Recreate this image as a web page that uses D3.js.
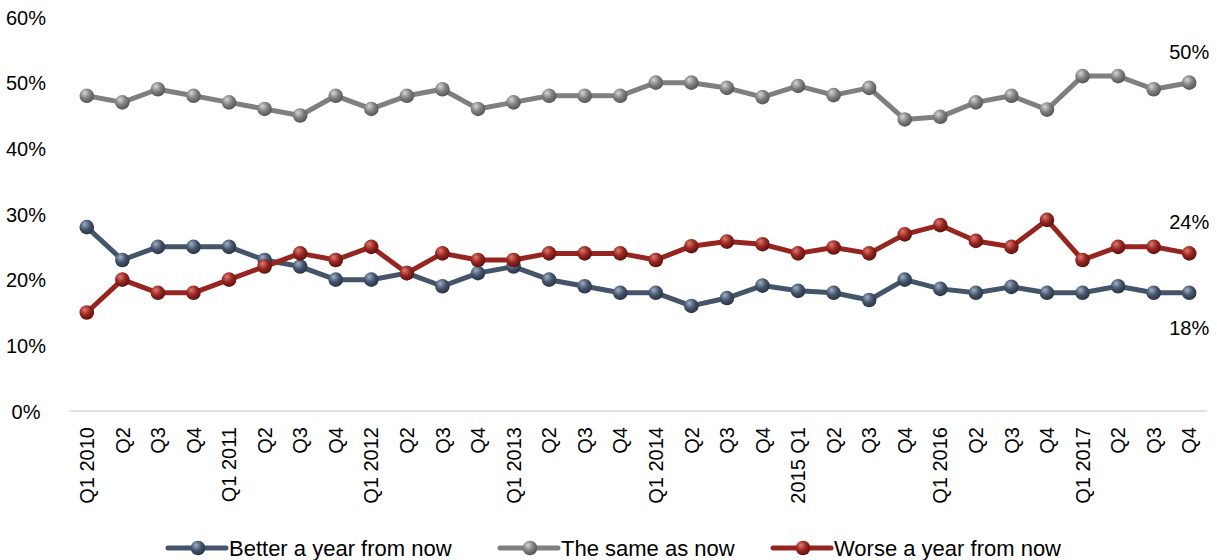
<!DOCTYPE html>
<html>
<head>
<meta charset="utf-8">
<script src="https://cdn.jsdelivr.net/npm/d3@7"></script>
<style>
  html, body { margin: 0; padding: 0; background: #fff; }
  svg { display: block; font-family: "Liberation Sans", Arial, sans-serif; }
</style>
</head>
<body>
<svg id="chart" width="1217" height="560"></svg>
<script>
const categories = [
  "Q1 2010","Q2","Q3","Q4",
  "Q1 2011","Q2","Q3","Q4",
  "Q1 2012","Q2","Q3","Q4",
  "Q1 2013","Q2","Q3","Q4",
  "Q1 2014","Q2","Q3","Q4",
  "2015 Q1","Q2","Q3","Q4",
  "Q1 2016","Q2","Q3","Q4",
  "Q1 2017","Q2","Q3","Q4"
];
const better = [28,23,25,25,25,23,22,20,20,21,19,21,22,20,19,18,18,16,17.2,19.1,18.3,18,16.9,20,18.6,18,18.9,18,18,19,18,18];
const same   = [48,47,49,48,47,46,45,48,46,48,49,46,47,48,48,48,50,50,49.2,47.8,49.5,48.1,49.2,44.4,44.8,47,48,45.9,51,51,49,50];
const worse  = [15,20,18,18,20,22,24,23,25,21,24,23,23,24,24,24,23,25.1,25.8,25.4,24,24.9,24,26.9,28.3,25.9,25,29.1,23,25,25,24];
const seriesNames = ["Better a year from now","The same as now","Worse a year from now"];
const yTicks = [0,10,20,30,40,50,60];
const endLabels = ["18%","50%","24%"];

const colors = ["#44546A","#7F7F7F","#962520"];
const light  = ["#9fb0c8","#d6d6d6","#e07a6e"];
const dark   = ["#2a3446","#555555","#5e120d"];

const svg = d3.select("#chart");
const x = d3.scaleBand().domain(d3.range(categories.length)).range([69, 1207]);
const cx = i => x(i) + x.bandwidth() / 2;
const y = d3.scaleLinear().domain([0, 60]).range([411, 17]);

// gradients for 3D markers
const defs = svg.append("defs");
colors.forEach((c, k) => {
  const g = defs.append("radialGradient").attr("id", "ball" + k)
    .attr("cx", "0.4").attr("cy", "0.35").attr("r", "0.65").attr("fx", "0.35").attr("fy", "0.3");
  g.append("stop").attr("offset", "0%").attr("stop-color", light[k]);
  g.append("stop").attr("offset", "55%").attr("stop-color", c);
  g.append("stop").attr("offset", "100%").attr("stop-color", dark[k]);
});

// baseline
svg.append("line").attr("x1", 69).attr("x2", 1207).attr("y1", y(0)).attr("y2", y(0))
  .attr("stroke", "#d9d9d9").attr("stroke-width", 1.5);

// y-axis labels
const yAxis = d3.axisLeft(y).tickValues(yTicks).tickFormat(d => d + "%").tickSize(0);
const yg = svg.append("g").attr("transform", "translate(26,0)").call(yAxis);
yg.select(".domain").remove();
yg.selectAll("text").attr("text-anchor", "middle").attr("x", 0).attr("dy", "0.35em")
  .style("font-size", "20px").style("fill", "#000")
  .style("font-family", '"Liberation Sans", Arial, sans-serif');

// x-axis labels
const xAxis = d3.axisBottom(x).tickFormat(i => categories[i]).tickSize(0);
const xg = svg.append("g").attr("transform", `translate(0,${y(0)})`).call(xAxis);
xg.select(".domain").remove();
xg.selectAll("text")
  .attr("transform", "rotate(-90)")
  .attr("text-anchor", "end")
  .attr("x", -16).attr("y", 0).attr("dy", "0.36em")
  .style("font-size", "20px").style("fill", "#000")
  .style("font-family", '"Liberation Sans", Arial, sans-serif');

const allSeries = [better, same, worse];
const line = d3.line().x((d, i) => cx(i)).y(d => y(d));

allSeries.forEach((s, k) => {
  svg.append("path").datum(s).attr("d", line)
    .attr("fill", "none").attr("stroke", colors[k]).attr("stroke-width", 5)
    .attr("stroke-linejoin", "round");
});
allSeries.forEach((s, k) => {
  svg.append("g").selectAll("circle").data(s).join("circle")
    .attr("cx", (d, i) => cx(i)).attr("cy", d => y(d)).attr("r", 7.3)
    .attr("fill", `url(#ball${k})`);
});

// end labels
const last = categories.length - 1;
const endOffsets = [35, -31, -31];
allSeries.forEach((s, k) => {
  svg.append("text").attr("x", cx(last)).attr("y", y(s[last]) + endOffsets[k])
    .attr("text-anchor", "middle").attr("dy", "0.35em")
    .style("font-size", "20px").text(endLabels[k]);
});

// legend
const legendX = [168, 500, 773];
const legY = 548;
seriesNames.forEach((n, k) => {
  const g = svg.append("g").attr("transform", `translate(${legendX[k]},${legY})`);
  g.append("line").attr("x1", 0).attr("x2", 58).attr("y1", 0).attr("y2", 0)
    .attr("stroke", colors[k]).attr("stroke-width", 5).attr("stroke-linecap", "round");
  g.append("circle").attr("cx", 30).attr("cy", 0).attr("r", 7.3).attr("fill", `url(#ball${k})`);
  g.append("text").attr("x", 61).attr("y", 0).attr("dy", "0.35em")
    .style("font-size", "22px").text(n);
});
</script>
</body>
</html>
